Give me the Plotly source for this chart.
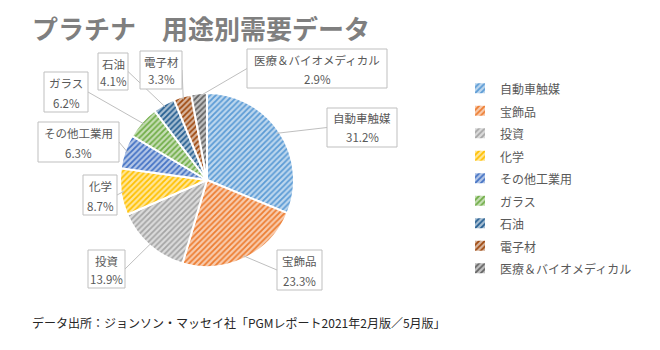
import numpy as np
import plotly.graph_objects as go

labels = ["自動車触媒", "宝飾品", "投資", "化学", "その他工業用", "ガラス", "石油", "電子材", "医療＆バイオメディカル"]
values = [31.2, 23.3, 13.9, 8.7, 6.3, 6.2, 4.1, 3.3, 2.9]
pct_text = ["31.2%", "23.3%", "13.9%", "8.7%", "6.3%", "6.2%", "4.1%", "3.3%", "2.9%"]
colors = ["#5B9BD5", "#ED7D31", "#A5A5A5", "#FFC000", "#4472C4", "#70AD47", "#255E91", "#9E480E", "#636363"]

# label boxes (x0, x1, y0, y1) in px of the 660x350 canvas
boxes = [(327, 397, 108, 147), (277, 322, 250, 290), (88, 125, 250, 288), (83, 117, 175, 215),
         (38, 119, 122, 162), (44, 88, 72, 112), (98, 128, 53, 90), (140, 182, 51, 89),
         (247, 387, 49, 88)]

W, H = 660, 350
cx, cy, r = 207, 180, 87


def tint(hexc, f):
    h = hexc.lstrip("#")
    rgb = [int(h[i:i + 2], 16) for i in (0, 2, 4)]
    rgb = [round(c + (255 - c) * f) for c in rgb]
    return "#%02X%02X%02X" % tuple(rgb)


bg = [tint(c, 0.6) for c in colors]
legend_labels = [f"<span style='font-size:12px'>{l}</span>" for l in labels]

fig = go.Figure()
fig.add_trace(go.Pie(
    labels=legend_labels, values=values, sort=False, direction="clockwise", rotation=0,
    textinfo="none", hoverinfo="label+percent",
    domain=dict(x=[(cx - r) / W, (cx + r) / W], y=[(H - cy - r) / H, (H - cy + r) / H]),
    marker=dict(colors=bg, line=dict(color="white", width=2),
                pattern=dict(shape="/", fgcolor=colors, bgcolor=bg, size=4, solidity=0.45,
                             fillmode="replace")),
))

tot = sum(values)
cum = np.cumsum([0] + values)
annotations, shapes = [], []
for i, (lab, pt) in enumerate(zip(labels, pct_text)):
    mid = (cum[i] + values[i] / 2) / tot * 2 * np.pi
    hx = cx + (r - 3) * np.sin(mid)
    hy = cy - (r - 3) * np.cos(mid)
    x0, x1, y0, y1 = boxes[i]
    bxc, byc = (x0 + x1) / 2, (y0 + y1) / 2
    if hx > x1:
        ex, ey = x1, byc
    elif hx < x0:
        ex, ey = x0, byc
    elif hy > y1:
        ex, ey = bxc, y1
    else:
        ex, ey = bxc, y0
    shapes.append(dict(type="line", xref="paper", yref="paper",
                       x0=hx / W, y0=1 - hy / H, x1=ex / W, y1=1 - ey / H,
                       line=dict(color="#BFBFBF", width=1), layer="above"))
    shapes.append(dict(type="rect", xref="paper", yref="paper",
                       x0=x0 / W, x1=x1 / W, y0=1 - y0 / H, y1=1 - y1 / H,
                       line=dict(color="#BFBFBF", width=1), fillcolor="white", layer="above"))
    annotations.append(dict(
        x=bxc / W, y=1 - (y0 + 10.5) / H, xref="paper", yref="paper",
        xanchor="center", yanchor="middle", text=lab, showarrow=False,
        font=dict(size=11.5, color="#595959"),
    ))
    annotations.append(dict(
        x=bxc / W, y=1 - (y1 - 9.5) / H, xref="paper", yref="paper",
        xanchor="center", yanchor="middle", text=pt, showarrow=False,
        font=dict(size=11.5, color="#595959"),
    ))

annotations.append(dict(
    x=30 / W, y=1 - 28 / H, xref="paper", yref="paper", xanchor="left", yanchor="middle",
    text="<b>プラチナ　用途別需要データ</b>", showarrow=False,
    font=dict(size=26, color="#7F7F7F"),
))
annotations.append(dict(
    x=30 / W, y=1 - 322 / H, xref="paper", yref="paper", xanchor="left", yanchor="middle",
    text="データ出所：ジョンソン・マッセイ社「PGMレポート2021年2月版／5月版」", showarrow=False,
    font=dict(size=12, color="#262626"),
))

fig.update_layout(
    width=W, height=H, margin=dict(l=0, r=0, t=0, b=0),
    paper_bgcolor="white", plot_bgcolor="white",
    font=dict(family="Noto Sans CJK JP", color="#595959"),
    showlegend=True,
    legend=dict(x=460 / W, y=1 - 72 / H, xanchor="left", yanchor="top",
                font=dict(size=15, color="#595959"), itemwidth=30,
                bgcolor="rgba(0,0,0,0)"),
    shapes=shapes,
    annotations=annotations,
)

fig.write_html("out.html")
